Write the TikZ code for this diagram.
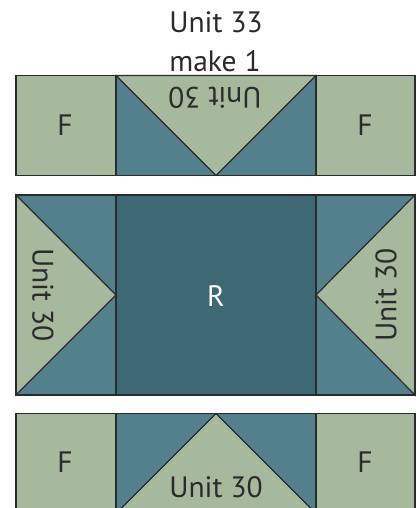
\documentclass[tikz,border=0pt]{standalone}
\usepackage{fontspec}
\setmainfont{PT Sans}
\definecolor{lg}{HTML}{A6B99C}
\definecolor{tl}{HTML}{52808C}
\definecolor{dt}{HTML}{3F6875}
\definecolor{ln}{HTML}{2B2B2B}
\tikzset{
  patch/.style={draw=ln, line width=1.2pt, line join=miter},
  lbl/.style={font=\fontsize{29.5}{31}\selectfont, text=ln, inner sep=0pt},
}
\begin{document}
\begin{tikzpicture}[x=1pt,y=-1pt]
\useasboundingbox (0,0) rectangle (419,508);
\begin{scope}
\clip (0,0) rectangle (419,508);
% top row
\fill[lg] (16,75.5) rectangle (116,175.5);
\fill[lg] (316,75.5) rectangle (415,175.5);
\fill[tl] (116,75.5) rectangle (316,175.5);
\filldraw[patch, fill=lg] (116,75.5) -- (316,75.5) -- (216,175.5) -- cycle;
\draw[patch] (16,75.5) rectangle (116,175.5);
\draw[patch] (116,75.5) rectangle (316,175.5);
\draw[patch] (316,75.5) rectangle (415,175.5);
% middle row
\fill[tl] (16,195) rectangle (116,395);
\fill[tl] (316,195) rectangle (415,395);
\fill[dt] (116,195) rectangle (316,395);
\filldraw[patch, fill=lg] (16,195) -- (116,295) -- (16,395) -- cycle;
\filldraw[patch, fill=lg] (415,195) -- (316,295) -- (415,395) -- cycle;
\draw[patch] (16,195) rectangle (116,395);
\draw[patch] (116,195) rectangle (316,395);
\draw[patch] (316,195) rectangle (415,395);
% bottom row
\fill[lg] (16,413.5) rectangle (116,513.5);
\fill[lg] (316,413.5) rectangle (415,513.5);
\fill[tl] (116,413.5) rectangle (316,513.5);
\filldraw[patch, fill=lg] (116,513.5) -- (216,413.5) -- (316,513.5) -- cycle;
\draw[patch] (16,413.5) rectangle (116,513.5);
\draw[patch] (116,413.5) rectangle (316,513.5);
\draw[patch] (316,413.5) rectangle (415,513.5);
\end{scope}
% labels
\node[lbl, anchor=base] (title1) at (216,33) {Unit 33};
\node[lbl, anchor=base] (title2) at (215,72) {make 1};
\node[lbl] (tf1) at (65,125) {F};
\node[lbl] (tf2) at (365,125) {F};
\node[lbl, rotate=180] (tu) at (215,98) {Unit 30};
\node[lbl, text=white] (r) at (216,296) {R};
\node[lbl, rotate=-90] (ml) at (43,295) {Unit 30};
\node[lbl, rotate=90] (mr) at (386,295) {Unit 30};
\node[lbl] (bf1) at (65,462) {F};
\node[lbl] (bf2) at (365,462) {F};
\node[lbl] (bu) at (216,487) {Unit 30};
\end{tikzpicture}
\end{document}
